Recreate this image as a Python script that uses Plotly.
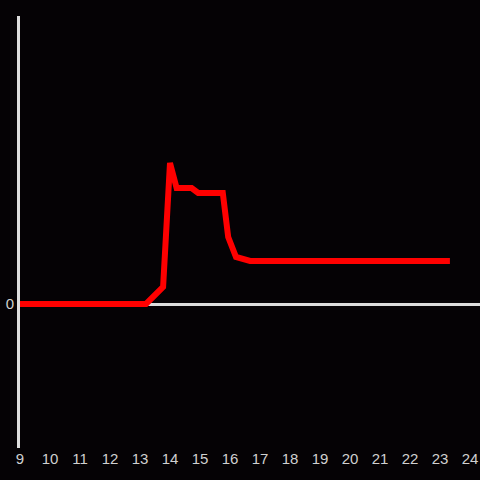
import plotly.graph_objects as go

hours = [9.0, 13.2, 13.77, 14.0, 14.22, 14.72, 14.94, 15.76, 15.94, 16.2, 16.67, 23.33]
values = [0, 0, 1.7, 14.1, 11.6, 11.6, 11.1, 11.1, 6.7, 4.7, 4.3, 4.3]
x_ticks = list(range(9, 25))

fig = go.Figure()
fig.add_trace(go.Scatter(x=hours, y=values, mode="lines",
                         line=dict(color="#ff0000", width=6), hoverinfo="skip"))

fig.update_layout(
    width=480, height=480,
    margin=dict(l=20, r=0, t=16, b=32),
    paper_bgcolor="#050205", plot_bgcolor="#050205",
    showlegend=False,
    font=dict(family="Liberation Sans, Arial, sans-serif", size=15, color="#d0d0d0"),
    xaxis=dict(range=[9, 24.333], tickvals=x_ticks, ticktext=[str(t) for t in x_ticks],
               showgrid=False, zeroline=False, showline=False, ticks="", ticklen=0),
    yaxis=dict(range=[-14.4, 28.8], tickvals=[0], ticktext=["0"],
               showgrid=False, zeroline=True, zerolinecolor="#dddddd", zerolinewidth=3,
               showline=True, linecolor="#dddddd", linewidth=3, ticks="", ticklen=0),
)
fig.write_html("out.html", config={"displayModeBar": False, "staticPlot": True},
               post_script="document.body.style.margin='0';document.body.style.background='#050205';")
